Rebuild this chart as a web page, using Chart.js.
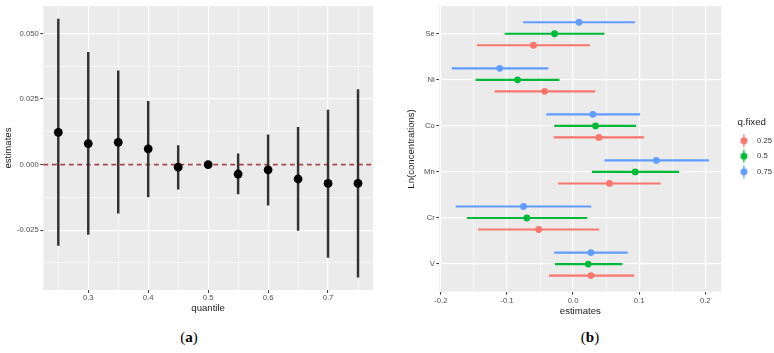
<!DOCTYPE html>
<html>
<head>
<meta charset="utf-8">
<script src="https://cdn.jsdelivr.net/npm/chart.js@4"></script>
<style>
html,body{margin:0;padding:0;background:#fff;overflow:hidden;width:774px;height:353px;}
#wrap{position:relative;width:774px;height:353px;overflow:hidden;}
canvas{position:absolute;top:0;}
#c1{left:0;}
#c2{left:390px;}
.cap{position:absolute;top:329px;font-family:"Liberation Serif","Times New Roman",serif;font-size:15px;line-height:17px;color:#000;transform:translateX(-50%);white-space:nowrap;}
</style>
</head>
<body>
<div id="wrap">
<canvas id="c1" width="390" height="320" style="width:390px;height:320px"></canvas>
<canvas id="c2" width="392" height="320" style="width:392px;height:320px"></canvas>
<div class="cap" style="left:189px">(<b>a</b>)</div>
<div class="cap" style="left:590px">(<b>b</b>)</div>
</div>
<script>
// ---------- Panel (a) data ----------
const quantiles = [0.25, 0.30, 0.35, 0.40, 0.45, 0.50, 0.55, 0.60, 0.65, 0.70, 0.75];
const estA = [0.0123, 0.0080, 0.0085, 0.0060, -0.0010, 0.0000, -0.0036, -0.0020, -0.0055, -0.0072, -0.0072];
const loA  = [-0.0308, -0.0266, -0.0185, -0.0123, -0.0094, 0.0000, -0.0112, -0.0155, -0.0251, -0.0354, -0.0429];
const hiA  = [0.0555, 0.0428, 0.0357, 0.0241, 0.0072, 0.0000, 0.0041, 0.0113, 0.0142, 0.0208, 0.0286];
const refLineA = 0;
const xMajorA = [0.3, 0.4, 0.5, 0.6, 0.7];
const xLabelsA = ['0.3', '0.4', '0.5', '0.6', '0.7'];
const xMinorA = [0.25, 0.35, 0.45, 0.55, 0.65, 0.75];
const yMajorA = [-0.025, 0, 0.025, 0.05];
const yLabelsA = ['-0.025', '0.000', '0.025', '0.050'];
const yMinorA = [-0.0375, -0.0125, 0.0125, 0.0375];

// ---------- Panel (b) data ----------
const cats = ['Se', 'Ni', 'Co', 'Mn', 'Cr', 'V'];
const seriesNames = ['0.25', '0.5', '0.75'];
const est025 = [-0.060, -0.043, 0.039, 0.055, -0.052, 0.027];
const lo025  = [-0.145, -0.118, -0.029, -0.022, -0.143, -0.036];
const hi025  = [0.025, 0.033, 0.107, 0.132, 0.039, 0.092];
const est05  = [-0.028, -0.084, 0.034, 0.094, -0.070, 0.023];
const lo05   = [-0.103, -0.147, -0.028, 0.029, -0.160, -0.027];
const hi05   = [0.047, -0.021, 0.095, 0.160, 0.021, 0.074];
const est075 = [0.009, -0.111, 0.030, 0.126, -0.075, 0.027];
const lo075  = [-0.075, -0.183, -0.040, 0.048, -0.177, -0.028];
const hi075  = [0.093, -0.038, 0.101, 0.205, 0.027, 0.082];
const xMajorB = [-0.2, -0.1, 0, 0.1, 0.2];
const xLabelsB = ['-0.2', '-0.1', '0.0', '0.1', '0.2'];
const xMinorB = [-0.15, -0.05, 0.05, 0.15];

// ---------- styling ----------
const FONT = '"Liberation Sans", Arial, sans-serif';
const TICK_COL = '#4D4D4D';
const TITLE_COL = '#1a1a1a';
const colors = ['#F8766D', '#00BA38', '#619CFF'];
Chart.defaults.font.family = FONT;

function labelFor(v, majors, labels) {
  const i = majors.findIndex(m => Math.abs(m - v) < 1e-9);
  return i < 0 ? '' : labels[i];
}
function isMajor(v, majors) { return majors.some(m => Math.abs(m - v) < 1e-9); }
function expand(lo, hi) { const r = hi - lo; return [lo - 0.05 * r, hi + 0.05 * r]; }

const panelBg = {
  id: 'panelBg',
  beforeDraw(chart) {
    const {ctx, chartArea: a} = chart;
    ctx.save();
    ctx.fillStyle = '#EBEBEB';
    ctx.fillRect(a.left, a.top, a.right - a.left, a.bottom - a.top);
    ctx.restore();
  }
};
const refLine = {
  id: 'refLine',
  beforeDatasetsDraw(chart) {
    const {ctx, chartArea: a, scales} = chart;
    const y = scales.y.getPixelForValue(refLineA);
    ctx.save();
    ctx.strokeStyle = '#A8474B';
    ctx.lineWidth = 1.7;
    ctx.setLineDash([5, 3.5]);
    ctx.beginPath();
    ctx.moveTo(a.left, y);
    ctx.lineTo(a.right, y);
    ctx.stroke();
    ctx.restore();
  }
};

function gridOpts(majors, minorLines) {
  return {
    offset: false,
    drawTicks: true,
    tickLength: 3,
    color: '#FFFFFF',
    lineWidth: c => isMajor(c.tick.value, majors) ? 1.15 : (minorLines ? 0.55 : 0),
    tickColor: c => isMajor(c.tick.value, majors) ? '#333333' : 'rgba(0,0,0,0)',
    tickWidth: c => isMajor(c.tick.value, majors) ? 1 : 0
  };
}

// ---------- Chart (a) ----------
const [xMinA, xMaxA] = expand(Math.min(...quantiles), Math.max(...quantiles));
const [yMinA, yMaxA] = expand(Math.min(...loA), Math.max(...hiA));

new Chart(document.getElementById('c1'), {
  type: 'bar',
  data: {
    datasets: [
      {
        type: 'scatter',
        data: quantiles.map((q, i) => ({x: q, y: estA[i]})),
        backgroundColor: '#000000',
        borderWidth: 0,
        pointRadius: 4.4,
        pointHoverRadius: 4.4,
        order: 0
      },
      {
        type: 'bar',
        data: quantiles.map((q, i) => ({x: q, y: [loA[i], hiA[i]]})),
        backgroundColor: '#333333',
        borderWidth: 0,
        barThickness: 1.8,
        grouped: false,
        order: 1
      }
    ]
  },
  options: {
    responsive: false,
    animation: false,
    layout: {padding: {left: 0, top: 6, right: 17, bottom: 6}},
    plugins: {legend: {display: false}, tooltip: {enabled: false}},
    events: [],
    scales: {
      x: {
        type: 'linear', min: xMinA, max: xMaxA, offset: false,
        border: {display: false},
        grid: gridOpts(xMajorA, true),
        afterBuildTicks: s => { s.ticks = [...xMinorA, ...xMajorA].sort((a, b) => a - b).map(v => ({value: v})); },
        ticks: {autoSkip: false, maxRotation: 0, padding: 0.5, color: TICK_COL, font: {size: 7.7},
          callback: v => labelFor(v, xMajorA, xLabelsA)},
        title: {display: true, text: 'quantile', color: TITLE_COL, font: {size: 9.6}, padding: {top: 0, bottom: 0}},
        afterFit: s => { s.height = 24; }
      },
      y: {
        type: 'linear', min: yMinA, max: yMaxA, offset: false, beginAtZero: false,
        border: {display: false},
        grid: gridOpts(yMajorA, true),
        afterBuildTicks: s => { s.ticks = [...yMinorA, ...yMajorA].sort((a, b) => a - b).map(v => ({value: v})); },
        ticks: {autoSkip: false, padding: 1.5, color: TICK_COL, font: {size: 7.7},
          callback: v => labelFor(v, yMajorA, yLabelsA)},
        title: {display: true, text: 'estimates', color: TITLE_COL, font: {size: 9.6}, padding: {top: 3, bottom: 0}},
        afterFit: s => { s.width = 43.3; }
      }
    }
  },
  plugins: [panelBg, refLine]
});

// ---------- Chart (b) ----------
const estB = [est025, est05, est075];
const loB = [lo025, lo05, lo075];
const hiB = [hi025, hi05, hi075];
const dodge = 0.25;
const nCat = cats.length;
const [xMinB, xMaxB] = expand(Math.min(...lo025, ...lo05, ...lo075), Math.max(...hi025, ...hi05, ...hi075));

function makeGlyph(color) {
  const c = document.createElement('canvas');
  c.width = 24; c.height = 14;
  const g = c.getContext('2d');
  const cx = 14.7;
  g.strokeStyle = color;
  g.lineWidth = 1.3;
  g.beginPath(); g.moveTo(cx, 0.5); g.lineTo(cx, 13.5); g.stroke();
  g.fillStyle = color;
  g.beginPath(); g.arc(cx, 7, 3.5, 0, Math.PI * 2); g.fill();
  return c;
}
const glyphs = colors.map(makeGlyph);

const dsB = [];
seriesNames.forEach((name, k) => {
  const off = (k - 1) * dodge;
  dsB.push({
    type: 'bar',
    indexAxis: 'y',
    label: name + ' range',
    data: cats.map((c, i) => ({y: (nCat - 1 - i) + off, x: [loB[k][i], hiB[k][i]]})),
    backgroundColor: colors[k],
    borderWidth: 0,
    barThickness: 1.5,
    grouped: false,
    order: 10 - k
  });
});
seriesNames.forEach((name, k) => {
  const off = (k - 1) * dodge;
  dsB.push({
    type: 'scatter',
    label: name,
    data: cats.map((c, i) => ({x: estB[k][i], y: (nCat - 1 - i) + off})),
    backgroundColor: colors[k],
    borderWidth: 0,
    pointRadius: 3.4,
    pointHoverRadius: 3.4,
    order: 5 - k
  });
});

new Chart(document.getElementById('c2'), {
  type: 'bar',
  data: {datasets: dsB},
  options: {
    responsive: false,
    animation: false,
    events: [],
    layout: {padding: {left: 0, top: 3.7, right: 0, bottom: 3.2}},
    plugins: {
      tooltip: {enabled: false},
      legend: {
        display: true,
        position: 'right',
        fullSize: false,
        title: {display: true, text: 'q.fixed', color: TITLE_COL, font: {size: 9.7}, padding: {top: 3, bottom: 0}},
        labels: {
          usePointStyle: true,
          pointStyleWidth: 24,
          padding: 7.8,
          color: '#333333',
          font: {size: 7.7},
          generateLabels: () => seriesNames.map((n, k) => ({
            text: n, pointStyle: glyphs[k], fillStyle: colors[k], strokeStyle: colors[k],
            lineWidth: 0, hidden: false, datasetIndex: 3 + k, fontColor: '#333333'
          }))
        }
      }
    },
    scales: {
      x: {
        type: 'linear', min: xMinB, max: xMaxB, offset: false, beginAtZero: false,
        border: {display: false},
        grid: gridOpts(xMajorB, true),
        afterBuildTicks: s => { s.ticks = [...xMinorB, ...xMajorB].sort((a, b) => a - b).map(v => ({value: v})); },
        ticks: {autoSkip: false, maxRotation: 0, padding: 1.2, color: TICK_COL, font: {size: 7.7},
          callback: v => labelFor(v, xMajorB, xLabelsB)},
        title: {display: true, text: 'estimates', color: TITLE_COL, font: {size: 9.6}, padding: {top: 0, bottom: 0}},
        afterFit: s => { s.height = 25.1; }
      },
      y: {
        type: 'linear', min: -0.6, max: nCat - 1 + 0.6, offset: false, beginAtZero: false,
        border: {display: false},
        grid: {offset: false, color: '#FFFFFF', lineWidth: 1.15, tickLength: 3, tickColor: '#333333', tickWidth: 1},
        afterBuildTicks: s => { s.ticks = cats.map((c, i) => ({value: i})); },
        ticks: {autoSkip: false, padding: 1.5, color: TICK_COL, font: {size: 7.7},
          callback: v => cats[nCat - 1 - Math.round(v)]},
        title: {display: true, text: 'Ln(concentrations)', color: TITLE_COL, font: {size: 9.6}, padding: {top: 16, bottom: 0}},
        afterFit: s => { s.width = 49.3; }
      }
    }
  },
  plugins: [panelBg]
});
</script>
</body>
</html>
